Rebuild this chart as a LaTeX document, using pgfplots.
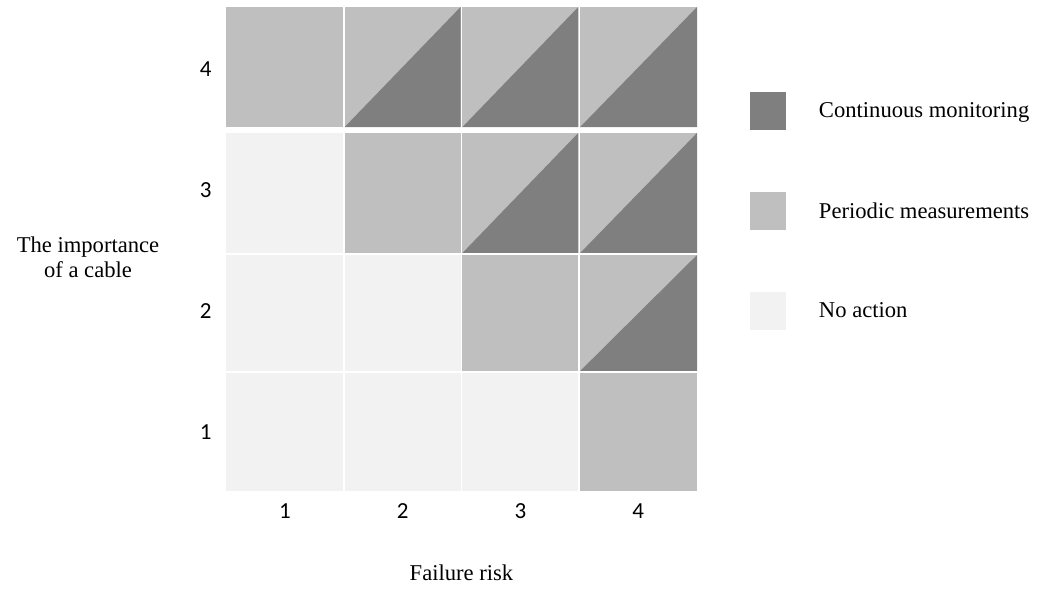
\documentclass[border=0pt]{standalone}
\usepackage{pgfplots}
\pgfplotsset{compat=1.18}
\usepackage{fontspec}
\setmainfont{Liberation Serif}
\newfontfamily\calibri{Carlito}
\definecolor{cL}{HTML}{F2F2F2}
\definecolor{cM}{HTML}{BFBFBF}
\definecolor{cD}{HTML}{7F7F7F}
\begin{document}
\begin{tikzpicture}
\useasboundingbox (0,0) rectangle (521.5pt,296pt);
\begin{axis}[
  at={(113pt,50.5pt)}, anchor=south west,
  scale only axis, width=235.5pt, height=242pt,
  xmin=0.5, xmax=4.5, ymin=0.5, ymax=4.5,
  axis line style={draw=none},
  major tick length=0pt,
  tick style={draw=none},
  xtick={1,2,3,4}, ytick={1,2,3,4},
  /pgf/number format/assume math mode=true,
  tick label style={font=\calibri\fontsize{11.5}{13}\selectfont},
  xticklabel style={inner sep=0pt, yshift=-6pt},
  yticklabel style={inner sep=0pt, xshift=-7pt, yshift=-1pt},
  label style={font=\fontsize{11.3}{12.5}\selectfont},
  xlabel={Failure risk},
  xlabel style={at={(axis description cs:0.5,-0.169)}, anchor=center},
  ylabel={The importance\\of a cable},
  ylabel style={rotate=-90, at={(axis description cs:-0.293,0.483)}, anchor=center, align=center},
  legend style={at={(rel axis cs:1.1125,0.8244)}, anchor=north west,
    draw=none, fill=none, inner sep=0pt, outer sep=0pt,
    row sep=31pt, font=\fontsize{11.3}{12.5}\selectfont,
    nodes={inner sep=0pt},
    /tikz/every odd column/.append style={column sep=16.5pt}},
  legend cell align=left,
  legend image code/.code={\fill[#1] (0pt,-9pt) rectangle (18pt,10pt);},
]
% row 1
\addplot[fill=cL, draw=none, forget plot] coordinates {(0.5,0.5) (1.492,0.5) (1.492,1.475) (0.5,1.475)} -- cycle;
\addplot[fill=cL, draw=none, forget plot] coordinates {(1.508,0.5) (2.492,0.5) (2.492,1.475) (1.508,1.475)} -- cycle;
\addplot[fill=cL, draw=none, forget plot] coordinates {(2.508,0.5) (3.492,0.5) (3.492,1.475) (2.508,1.475)} -- cycle;
\addplot[fill=cM, draw=none, forget plot] coordinates {(3.508,0.5) (4.5,0.5) (4.5,1.475) (3.508,1.475)} -- cycle;
% row 2
\addplot[fill=cL, draw=none, forget plot] coordinates {(0.5,1.492) (1.492,1.492) (1.492,2.450) (0.5,2.450)} -- cycle;
\addplot[fill=cL, draw=none, forget plot] coordinates {(1.508,1.492) (2.492,1.492) (2.492,2.450) (1.508,2.450)} -- cycle;
\addplot[fill=cM, draw=none, forget plot] coordinates {(2.508,1.492) (3.492,1.492) (3.492,2.450) (2.508,2.450)} -- cycle;
\addplot[fill=cM, draw=none, forget plot] coordinates {(3.508,1.492) (4.5,1.492) (4.5,2.450) (3.508,2.450)} -- cycle;
\addplot[fill=cD, draw=none, forget plot] coordinates {(3.508,1.492) (4.5,1.492) (4.5,2.450)} -- cycle;
% row 3
\addplot[fill=cL, draw=none, forget plot] coordinates {(0.5,2.467) (1.492,2.467) (1.492,3.459) (0.5,3.459)} -- cycle;
\addplot[fill=cM, draw=none, forget plot] coordinates {(1.508,2.467) (2.492,2.467) (2.492,3.459) (1.508,3.459)} -- cycle;
\addplot[fill=cM, draw=none, forget plot] coordinates {(2.508,2.467) (3.492,2.467) (3.492,3.459) (2.508,3.459)} -- cycle;
\addplot[fill=cD, draw=none, forget plot] coordinates {(2.508,2.467) (3.492,2.467) (3.492,3.459)} -- cycle;
\addplot[fill=cM, draw=none, forget plot] coordinates {(3.508,2.467) (4.5,2.467) (4.5,3.459) (3.508,3.459)} -- cycle;
\addplot[fill=cD, draw=none, forget plot] coordinates {(3.508,2.467) (4.5,2.467) (4.5,3.459)} -- cycle;
% row 4
\addplot[fill=cM, draw=none, forget plot] coordinates {(0.5,3.508) (1.492,3.508) (1.492,4.5) (0.5,4.5)} -- cycle;
\addplot[fill=cM, draw=none, forget plot] coordinates {(1.508,3.508) (2.492,3.508) (2.492,4.5) (1.508,4.5)} -- cycle;
\addplot[fill=cD, draw=none, forget plot] coordinates {(1.508,3.508) (2.492,3.508) (2.492,4.5)} -- cycle;
\addplot[fill=cM, draw=none, forget plot] coordinates {(2.508,3.508) (3.492,3.508) (3.492,4.5) (2.508,4.5)} -- cycle;
\addplot[fill=cD, draw=none, forget plot] coordinates {(2.508,3.508) (3.492,3.508) (3.492,4.5)} -- cycle;
\addplot[fill=cM, draw=none, forget plot] coordinates {(3.508,3.508) (4.5,3.508) (4.5,4.5) (3.508,4.5)} -- cycle;
\addplot[fill=cD, draw=none, forget plot] coordinates {(3.508,3.508) (4.5,3.508) (4.5,4.5)} -- cycle;
% legend
\addlegendimage{fill=cD, draw=none}
\addlegendentry{Continuous monitoring}
\addlegendimage{fill=cM, draw=none}
\addlegendentry{Periodic measurements}
\addlegendimage{fill=cL, draw=none}
\addlegendentry{No action}
\end{axis}
\end{tikzpicture}
\end{document}
